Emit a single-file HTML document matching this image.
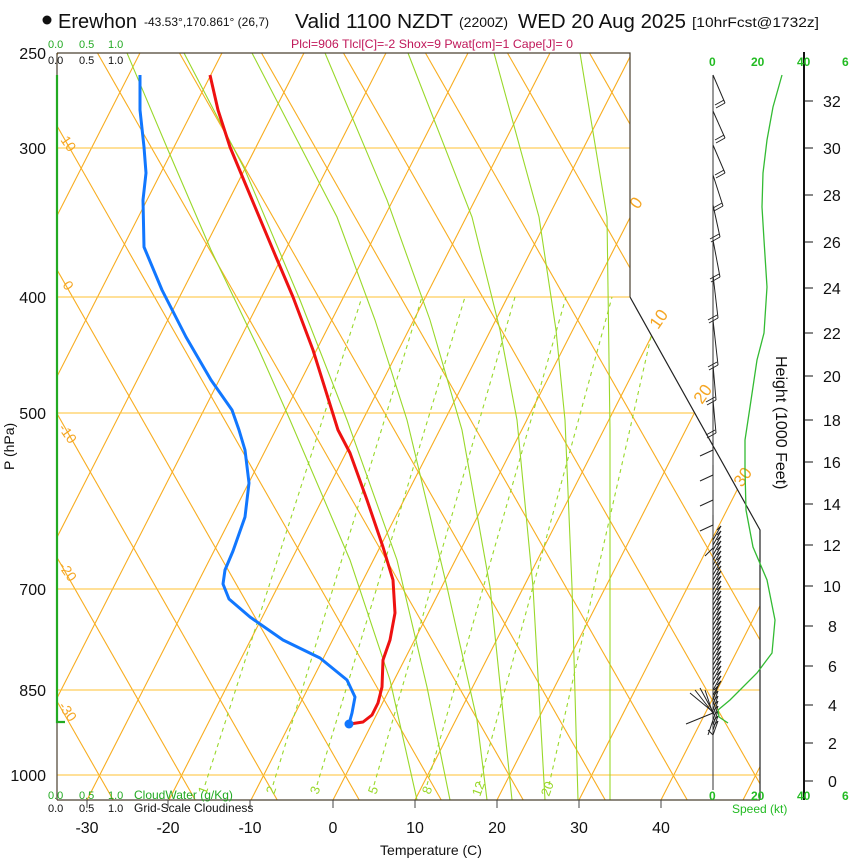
<!DOCTYPE html>
<html><head><meta charset="utf-8">
<style>
html,body{margin:0;padding:0;background:#fff;}
svg{display:block;font-family:"Liberation Sans",sans-serif;}
</style></head>
<body>
<svg id="s" width="850" height="860" viewBox="0 0 850 860" xmlns="http://www.w3.org/2000/svg">
<defs>
<clipPath id="cp"><polygon points="57,53 630,53 630,297 760,530 760,800 57,800"/></clipPath>
</defs>
<g id="grid" clip-path="url(#cp)" fill="none"></g>
<g clip-path="url(#cp)" fill="none" stroke="#ffc030" stroke-width="1">
<line x1="57" y1="148" x2="760" y2="148"/>
<line x1="57" y1="297" x2="760" y2="297"/>
<line x1="57" y1="413" x2="760" y2="413"/>
<line x1="57" y1="589" x2="760" y2="589"/>
<line x1="57" y1="690" x2="760" y2="690"/>
<line x1="57" y1="775" x2="760" y2="775"/>
</g>
<!-- moist adiabats -->
<g clip-path="url(#cp)" fill="none" stroke="#99d82a" stroke-width="1.1">
<polyline points="127,53 168,150 211,250 259,350 290,420 350,560 390,680 417,800"/>
<polyline points="184,53 245,170 300,300 347,420 397,560 427,687 450,800"/>
<polyline points="252,53 337,217 375,320 407,420 447,587 477,720 487,800"/>
<polyline points="325,53 387,200 430,320 462,430 490,587 512,800"/>
<polyline points="408,53 472,217 500,330 517,420 533,587 545,800"/>
<polyline points="494,53 539,217 556,330 565,420 572,587 578,800"/>
<polyline points="580,53 607,217 610,430 610,800"/>
</g>
<!-- mixing ratio -->
<g clip-path="url(#cp)" fill="none" stroke="#99d82a" stroke-width="1.1" stroke-dasharray="4,4">
<line x1="205" y1="785" x2="362" y2="297"/>
<line x1="273" y1="785" x2="422" y2="297"/>
<line x1="317" y1="785" x2="465" y2="297"/>
<line x1="374" y1="785" x2="515" y2="297"/>
<line x1="427" y1="785" x2="566" y2="297"/>
<line x1="479" y1="785" x2="612" y2="297"/>
<line x1="549" y1="785" x2="660" y2="297"/>
</g>
<g fill="#99d82a" font-size="13">
<text transform="translate(206,795) rotate(-70)">1</text>
<text transform="translate(274,795) rotate(-70)">2</text>
<text transform="translate(318,795) rotate(-70)">3</text>
<text transform="translate(376,795) rotate(-70)">5</text>
<text transform="translate(430,795) rotate(-70)">8</text>
<text transform="translate(480,797) rotate(-70)">12</text>
<text transform="translate(549,797) rotate(-70)">20</text>
</g>
<!-- orange labels -->
<g fill="#f5a623" font-size="14">
<text transform="translate(60,140) rotate(55)">10</text>
<text transform="translate(62,285) rotate(55)">0</text>
<text transform="translate(58,428) rotate(55)">-10</text>
<text transform="translate(58,566) rotate(55)">-20</text>
<text transform="translate(58,706) rotate(55)">-30</text>
<text font-size="17" transform="translate(638,210) rotate(-55)">0</text>
<text font-size="17" transform="translate(658,330) rotate(-55)">10</text>
<text font-size="17" transform="translate(702,405) rotate(-55)">20</text>
<text font-size="17" transform="translate(742,488) rotate(-55)">30</text>
</g>
<!-- frame -->
<g fill="none" stroke="#4a4030" stroke-width="1.2">
<polyline points="57,53 630,53 630,297"/>
<polyline stroke="#222" points="630,297 760,530 760,800"/>
<line x1="57" y1="800" x2="760" y2="800"/>
<line x1="57" y1="53" x2="57" y2="800"/>
</g>
<g stroke="#444" stroke-width="1">
<line x1="87" y1="800" x2="87" y2="808"/><line x1="168" y1="800" x2="168" y2="808"/>
<line x1="250" y1="800" x2="250" y2="808"/><line x1="333" y1="800" x2="333" y2="808"/>
<line x1="415" y1="800" x2="415" y2="808"/><line x1="497" y1="800" x2="497" y2="808"/>
<line x1="579" y1="800" x2="579" y2="808"/><line x1="661" y1="800" x2="661" y2="808"/>
</g>
<!-- cloudwater line -->
<polyline points="57,75 57,722 65,722" fill="none" stroke="#22aa22" stroke-width="2.2"/>
<!-- temperature -->
<polyline fill="none" stroke="#ee1111" stroke-width="3" stroke-linejoin="round" points="210,75 218,110 230,147 245,183 276,257 293,297 313,350 338,430 350,453 367,500 383,547 393,580 395,613 390,640 383,660 382,687 378,703 372,715 363,722 350,724"/>
<!-- dewpoint -->
<polyline fill="none" stroke="#1177ff" stroke-width="3" stroke-linejoin="round" points="140,75 140,110 144,147 146,173 143,200 144,247 162,290 186,337 211,380 232,410 239,430 245,450 249,483 245,517 233,551 225,570 223,584 229,599 250,617 283,640 320,658 347,680 355,697 352,713 349,724"/>
<circle cx="349" cy="724" r="4.5" fill="#1177ff"/>
<!-- wind panel -->
<line x1="713" y1="75" x2="713" y2="790" stroke="#333" stroke-width="1"/>
<g id="barbs" fill="none" stroke="#222" stroke-width="1"></g>
<polyline fill="none" stroke="#33bb33" stroke-width="1.3" points="782,75 773,107 767,140 763,173 762,207 764,240 767,287 764,333 757,360 750,407 745,440 745,470 746,510 753,547 767,580 775,620 772,653 757,673 730,700 718,710 719,717 728,723"/>
<line x1="804" y1="52" x2="804" y2="800" stroke="#111" stroke-width="2"/>
<g stroke="#111" stroke-width="1">
<line x1="804" y1="101" x2="813" y2="101"/><line x1="804" y1="148" x2="813" y2="148"/>
<line x1="804" y1="195" x2="813" y2="195"/><line x1="804" y1="242" x2="813" y2="242"/>
<line x1="804" y1="288" x2="813" y2="288"/><line x1="804" y1="333" x2="813" y2="333"/>
<line x1="804" y1="376" x2="813" y2="376"/><line x1="804" y1="420" x2="813" y2="420"/>
<line x1="804" y1="462" x2="813" y2="462"/><line x1="804" y1="504" x2="813" y2="504"/>
<line x1="804" y1="545" x2="813" y2="545"/><line x1="804" y1="586" x2="813" y2="586"/>
<line x1="804" y1="626" x2="813" y2="626"/><line x1="804" y1="666" x2="813" y2="666"/>
<line x1="804" y1="705" x2="813" y2="705"/><line x1="804" y1="743" x2="813" y2="743"/>
<line x1="804" y1="781" x2="813" y2="781"/>
</g>
<g font-size="16" fill="#111">
<text x="823" y="107">32</text><text x="823" y="154">30</text><text x="823" y="201">28</text>
<text x="823" y="248">26</text><text x="823" y="294">24</text><text x="823" y="339">22</text>
<text x="823" y="382">20</text><text x="823" y="426">18</text><text x="823" y="468">16</text>
<text x="823" y="510">14</text><text x="823" y="551">12</text><text x="823" y="592">10</text>
<text x="828" y="632">8</text><text x="828" y="672">6</text><text x="828" y="711">4</text>
<text x="828" y="749">2</text><text x="828" y="787">0</text>
</g>
<text transform="translate(776,356) rotate(90)" font-size="16" fill="#111">Height (1000 Feet)</text>
<g font-size="12" fill="#22bb22" font-weight="bold">
<text x="709" y="66">0</text><text x="751" y="66">20</text><text x="797" y="66">40</text><text x="842" y="66">6</text>
<text x="709" y="800">0</text><text x="751" y="800">20</text><text x="797" y="800">40</text><text x="842" y="800">6</text>
</g>
<text x="732" y="813" font-size="12" fill="#22bb22">Speed (kt)</text>
<!-- left labels -->
<g font-size="16" fill="#111" text-anchor="end">
<text x="46" y="59">250</text><text x="46" y="154">300</text><text x="46" y="303">400</text>
<text x="46" y="419">500</text><text x="46" y="595">700</text><text x="46" y="696">850</text>
<text x="46" y="781">1000</text>
</g>
<text transform="translate(14,470) rotate(-90)" font-size="14" fill="#111">P (hPa)</text>
<g font-size="11" fill="#22aa22">
<text x="48" y="48">0.0</text><text x="79" y="48">0.5</text><text x="108" y="48">1.0</text>
<text x="48" y="799">0.0</text><text x="79" y="799">0.5</text><text x="108" y="799">1.0</text>
<text x="134" y="799" font-size="12">CloudWater (g/Kg)</text>
</g>
<g font-size="11" fill="#111">
<text x="48" y="64">0.0</text><text x="79" y="64">0.5</text><text x="108" y="64">1.0</text>
<text x="48" y="812">0.0</text><text x="79" y="812">0.5</text><text x="108" y="812">1.0</text>
<text x="134" y="812" font-size="12">Grid-Scale Cloudiness</text>
</g>
<g font-size="16" fill="#111" text-anchor="middle">
<text x="87" y="833">-30</text><text x="168" y="833">-20</text><text x="250" y="833">-10</text>
<text x="333" y="833">0</text><text x="415" y="833">10</text><text x="497" y="833">20</text>
<text x="579" y="833">30</text><text x="661" y="833">40</text>
<text x="431" y="855" font-size="14">Temperature (C)</text>
</g>
<!-- title -->
<circle cx="47" cy="20" r="4.5" fill="#111"/>
<text x="58" y="28" font-size="20" fill="#111">Erewhon</text>
<text x="144" y="26" font-size="12" fill="#111">-43.53°,170.861° (26,7)</text>
<text x="295" y="28" font-size="20" fill="#111" textLength="158" lengthAdjust="spacingAndGlyphs">Valid 1100 NZDT</text>
<text x="459" y="27" font-size="14" fill="#111">(2200Z)</text>
<text x="518" y="28" font-size="20" fill="#111" textLength="168" lengthAdjust="spacingAndGlyphs">WED 20 Aug 2025</text>
<text x="692" y="27" font-size="14" fill="#111" textLength="127" lengthAdjust="spacingAndGlyphs">[10hrFcst@1732z]</text>
<text x="291" y="48" font-size="12" fill="#c0185a" textLength="282" lengthAdjust="spacingAndGlyphs">Plcl=906 Tlcl[C]=-2 Shox=9 Pwat[cm]=1 Cape[J]= 0</text>
</svg>
<script>
(function(){
var NS="http://www.w3.org/2000/svg";
var g=document.getElementById("grid");
function X(T,y){return 333+8.2*T+0.51*(800-y);}
function add(tag,attrs){var e=document.createElementNS(NS,tag);for(var k in attrs)e.setAttribute(k,attrs[k]);g.appendChild(e);return e;}
for(var T=-120;T<=60;T+=10){
  add("line",{x1:X(T,800),y1:800,x2:X(T,40),y2:40,stroke:"#f8ad20","stroke-width":1.1});
}
for(var k=-5;k<=12;k++){
  var x0=345+82*k;
  add("line",{x1:x0+0.57*(800-775),y1:800,x2:x0-0.57*(775-40),y2:40,stroke:"#f8ad20","stroke-width":1.1});
}
var b=document.getElementById("barbs");
function line(x1,y1,x2,y2){var e=document.createElementNS(NS,"line");e.setAttribute("x1",x1);e.setAttribute("y1",y1);e.setAttribute("x2",x2);e.setAttribute("y2",y2);b.appendChild(e);}
var up=[[75,725,103],[111,725,138],[145,725,173],[175,723,206],[205,720,237],[240,720,277],[275,718,318],[320,718,365],[365,716,400],[400,716,433]];
up.forEach(function(a){
  var y0=a[0],tx=a[1],ty=a[2];
  line(713,y0,tx,ty);
  line(tx,ty,tx-9,ty+5);line(tx-1,ty-3,tx-10,ty+2);
});
var mid=[[450,700,456],[475,700,481],[500,700,506],[525,700,531],[548,705,556]];
mid.forEach(function(a){line(713,a[0]-10,713,a[0]);line(713,a[0],a[1],a[2]);});
for(var y=540;y<=735;y+=5){
  var dx=(y<700)?8:5;
  line(713,y,713+dx,y-14);line(713+dx,y-14,713+dx-4,y-10);
}
line(713,713,686,724);line(713,712,690,693);line(713,713,695,690);line(713,712,700,688);line(713,714,705,690);
line(713,720,708,735);line(713,735,708,730);
})();
</script>
</body></html>
